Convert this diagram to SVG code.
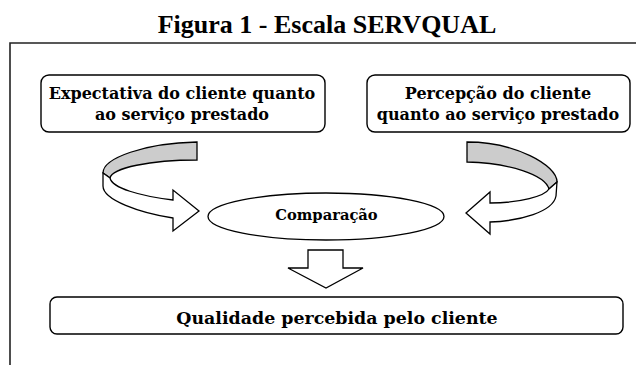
<svg xmlns="http://www.w3.org/2000/svg" width="636" height="365" viewBox="0 0 636 365">
<style>
.title{font-family:"Liberation Serif","Times New Roman",serif;font-weight:bold;font-size:26px;fill:#000}
.lbl{font-family:"DejaVu Serif",serif;font-weight:bold;fill:#000;text-anchor:middle}
.box{fill:#fff;stroke:#000;stroke-width:1.4}
.shape{fill:#fff;stroke:#000;stroke-width:1.3;stroke-linejoin:miter}
.band{fill:#cccccc;stroke:#000;stroke-width:1.3}
</style>
<rect width="636" height="365" fill="#fff"/>
<text class="title" x="327" y="33" text-anchor="middle">Figura 1 - Escala SERVQUAL</text>
<path d="M10,365 V43 H636" fill="none" stroke="#222" stroke-width="1.6"/>

<g id="expectativa">
<rect class="box" x="41" y="75" width="284" height="57" rx="8"/>
<text class="lbl" x="182" y="99" font-size="16">Expectativa do cliente quanto</text>
<text class="lbl" x="182" y="120" font-size="16">ao serviço prestado</text>
</g>

<g id="percepcao">
<rect class="box" x="367" y="75" width="263" height="57" rx="8"/>
<text class="lbl" x="498" y="99" font-size="16">Percepção do cliente</text>
<text class="lbl" x="498" y="120" font-size="16">quanto ao serviço prestado</text>
</g>

<g id="comparacao">
<ellipse class="shape" cx="326" cy="216.5" rx="118" ry="23.5"/>
<text class="lbl" x="326.5" y="219.5" font-size="14.7">Comparação</text>
</g>

<g id="qualidade">
<rect class="box" x="50" y="297" width="573" height="37" rx="7"/>
<text class="lbl" x="337" y="323.5" font-size="17.4">Qualidade percebida pelo cliente</text>
</g>

<g id="connectors">
<g id="seta-esquerda">
<path class="band" d="M197,142 C145,143 103,158 103,173 L110,178 C112,168 150,160 197,160 Z"/>
<path class="shape" d="M103,173 L103,186 C103,200 140,213 173,218 L173,231 L199,211 L173,190 L173,200 C140,196 112,188 110,178 Z"/>
</g>
<g id="seta-direita">
<path class="band" d="M467,142 C515,142 557,165 557,182 L549,189 C545,175 510,163 467,162 Z"/>
<path class="shape" d="M557,182 L556,196 C553,212 520,221 490,222 L490,234 L466,213 L490,192 L490,203 C520,203 545,196 549,189 Z"/>
</g>
<path id="seta-baixo" class="shape" d="M308,250 H343 V268 H363 L326,288 L288,268 H308 Z"/>
</g>
</svg>
